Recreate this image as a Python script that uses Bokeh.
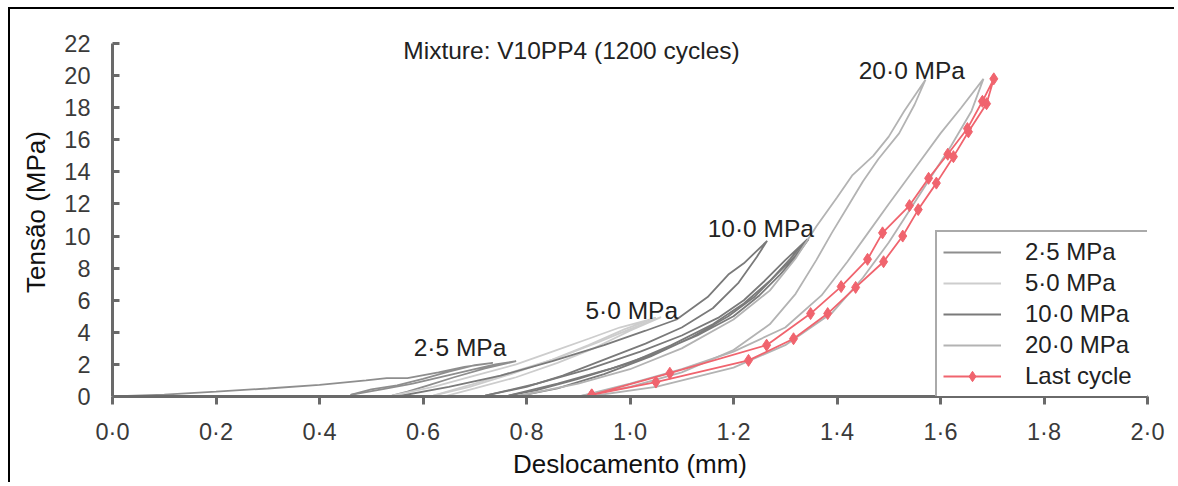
from bokeh.plotting import figure
from bokeh.models import (ColumnDataSource, FixedTicker, CustomJSTickFormatter, Label,
                          Legend, LegendItem)
from bokeh.core.properties import value
from bokeh.embed import file_html
from bokeh.resources import INLINE

FONT = "Liberation Sans"

# ---------------- data ----------------
x_ticks = [0.0, 0.2, 0.4, 0.6, 0.8, 1.0, 1.2, 1.4, 1.6, 1.8, 2.0]
y_ticks = [0, 2, 4, 6, 8, 10, 12, 14, 16, 18, 20, 22]

# 2.5 MPa cycles (loading + unloading)
s25_xs = [
    [0.0, 0.1, 0.2, 0.3, 0.4, 0.49, 0.53, 0.57, 0.63, 0.68, 0.735,
     0.70, 0.65, 0.60, 0.55, 0.50, 0.46],
    [0.46, 0.52, 0.58, 0.64, 0.70, 0.74, 0.78,
     0.72, 0.66, 0.61, 0.57, 0.54],
]
s25_ys = [
    [0.0, 0.12, 0.3, 0.5, 0.72, 1.0, 1.15, 1.15, 1.5, 1.85, 2.1,
     1.95, 1.55, 1.1, 0.7, 0.45, 0.1],
    [0.1, 0.45, 0.8, 1.25, 1.7, 2.0, 2.2,
     1.75, 1.2, 0.7, 0.3, 0.05],
]

# 5.0 MPa cycles
s50_xs = [
    [0.54, 0.62, 0.70, 0.78, 0.85, 0.92, 0.98, 1.05,
     0.99, 0.92, 0.85, 0.77, 0.69, 0.62],
    [0.62, 0.70, 0.78, 0.86, 0.94, 1.00, 1.06,
     1.00, 0.93, 0.86, 0.78, 0.70, 0.64],
]
s50_ys = [
    [0.05, 0.6, 1.3, 2.0, 2.8, 3.6, 4.3, 4.9,
     4.2, 3.2, 2.3, 1.4, 0.6, 0.05],
    [0.05, 0.8, 1.6, 2.4, 3.4, 4.2, 4.95,
     4.1, 3.0, 2.1, 1.2, 0.5, 0.0],
]

# 10.0 MPa cycles
s100_xs = [
    [0.55, 0.65, 0.75, 0.85, 0.95, 1.03, 1.09, 1.15, 1.19, 1.22, 1.265,
     1.245, 1.21, 1.16, 1.10, 1.03, 0.95, 0.87, 0.80, 0.72],
    [0.72, 0.82, 0.92, 1.02, 1.10, 1.17, 1.22, 1.26, 1.30, 1.343,
     1.31, 1.27, 1.22, 1.16, 1.08, 1.00, 0.90, 0.82, 0.765],
    [0.765, 0.86, 0.96, 1.05, 1.13, 1.20, 1.25, 1.29, 1.32, 1.345,
     1.32, 1.28, 1.24, 1.19, 1.12, 1.04, 0.95, 0.86, 0.78],
]
s100_ys = [
    [0.0, 0.6, 1.3, 2.2, 3.2, 4.1, 4.8, 6.2, 7.6, 8.3, 9.7,
     8.7, 7.1, 5.5, 4.3, 3.3, 2.3, 1.3, 0.6, 0.05],
    [0.05, 0.8, 1.7, 2.8, 3.8, 4.9, 6.0, 7.2, 8.5, 9.8,
     8.6, 7.2, 5.8, 4.5, 3.2, 2.1, 1.1, 0.4, 0.05],
    [0.05, 0.8, 1.7, 2.7, 3.8, 5.0, 6.3, 7.6, 8.7, 9.8,
     8.8, 7.5, 6.2, 5.0, 3.7, 2.5, 1.4, 0.5, 0.0],
]

# 20.0 MPa cycles
s200_xs = [
    [0.78, 0.90, 1.00, 1.10, 1.20, 1.27, 1.32, 1.36, 1.40, 1.43, 1.47, 1.50, 1.53, 1.571,
     1.55, 1.52, 1.48, 1.45, 1.42, 1.39, 1.36, 1.32, 1.27, 1.20, 1.10, 1.00, 0.90],
    [0.90, 1.00, 1.10, 1.20, 1.30, 1.37, 1.42, 1.46, 1.50, 1.55, 1.60, 1.64, 1.683,
     1.66, 1.62, 1.58, 1.54, 1.50, 1.45, 1.39, 1.30, 1.20, 1.05, 0.92],
]
s200_ys = [
    [0.0, 0.8, 1.7, 3.0, 4.8, 6.6, 8.6, 10.6, 12.4, 13.8, 15.0, 16.2, 17.8, 19.75,
     18.2, 16.4, 14.8, 13.4, 11.8, 10.2, 8.5, 6.4, 4.5, 2.9, 1.5, 0.6, 0.0],
    [0.0, 0.8, 1.7, 2.8, 4.3, 6.3, 8.4, 10.2, 12.0, 14.2, 16.4, 18.0, 19.8,
     17.8, 15.6, 13.6, 11.6, 9.6, 7.4, 5.2, 3.2, 1.8, 0.6, 0.0],
]

# last cycle (red, with markers)
last_x = [0.926, 1.077, 1.264, 1.349, 1.408, 1.459, 1.488, 1.540, 1.577, 1.614, 1.652, 1.681, 1.703,
          1.689, 1.654, 1.625, 1.592, 1.557, 1.527, 1.490, 1.436, 1.382, 1.316, 1.229, 1.050, 0.926]
last_y = [0.10, 1.45, 3.20, 5.17, 6.85, 8.55, 10.2, 11.9, 13.6, 15.1, 16.7, 18.4, 19.8,
          18.25, 16.5, 14.95, 13.3, 11.65, 10.0, 8.4, 6.8, 5.17, 3.6, 2.25, 0.9, 0.10]

series_names = ["2·5 MPa", "5·0 MPa", "10·0 MPa", "20·0 MPa", "Last cycle"]

label_text = ["2·5 MPa", "5·0 MPa", "10·0 MPa", "20·0 MPa"]
title_text = "Mixture: V10PP4 (1200 cycles)"
x_title = "Deslocamento (mm)"
y_title = "Tensão (MPa)"

# ---------------- figure ----------------
p = figure(width=1166, height=475, x_range=(0, 2.0), y_range=(0, 23),
           output_backend="svg", toolbar_location=None,
           min_border_left=102, min_border_right=29, min_border_top=18, min_border_bottom=88)
p.styles = {"margin-left": "8px", "margin-top": "7px",
            "border-left": "2px solid black", "border-top": "2px solid black"}
p.outline_line_color = None
p.xgrid.visible = False
p.ygrid.visible = False
p.background_fill_color = "white"
p.border_fill_color = "white"

AX = "#6a6a6a"
for ax in (p.xaxis[0], p.yaxis[0]):
    ax.axis_line_color = AX
    ax.axis_line_width = 3
    ax.major_tick_line_color = AX
    ax.major_tick_line_width = 3
    ax.minor_tick_line_color = None
    ax.major_label_text_font = FONT
    ax.major_label_text_font_size = "23.5px"
    ax.major_label_text_color = "#3a3a3a"
    ax.axis_label_text_font = FONT
    ax.axis_label_text_font_size = "26px"
    ax.axis_label_text_font_style = "normal"
    ax.axis_label_text_color = "#111111"

p.xaxis.ticker = FixedTicker(ticks=x_ticks)
p.xaxis.formatter = CustomJSTickFormatter(code="return tick.toFixed(1).replace('.', '\u00b7');")
p.xaxis.major_tick_in = 0
p.xaxis.major_tick_out = 8
p.xaxis.major_label_standoff = 14
p.xaxis.bounds = (0, 2.0)
p.xaxis.axis_label = x_title
p.xaxis.axis_label_standoff = 1

p.yaxis.ticker = FixedTicker(ticks=y_ticks)
p.yaxis.major_tick_in = 7
p.yaxis.major_tick_out = 0
p.yaxis.major_label_standoff = 22
p.yaxis.bounds = (0, 22)
p.yaxis.axis_label = y_title
p.yaxis.axis_label_standoff = 10

# curves
r25 = p.multi_line(s25_xs, s25_ys, line_color="#8e8e8e", line_width=1.8)
r50 = p.multi_line(s50_xs, s50_ys, line_color="#cdcdcd", line_width=1.8)
r100 = p.multi_line(s100_xs, s100_ys, line_color="#7a7a7a", line_width=1.8)
r200 = p.multi_line(s200_xs, s200_ys, line_color="#b3b3b3", line_width=1.8)
RED = "#f0646e"
rl = p.line(last_x, last_y, line_color=RED, line_width=1.8)
rm = p.scatter(last_x, last_y, marker="diamond", size=12, fill_color=RED, line_color=RED)

# level annotations
src = ColumnDataSource(dict(x=[0.582, 0.914, 1.150, 1.442],
                            y=[3.05, 5.36, 10.5, 20.3], t=label_text))
p.text("x", "y", text="t", source=src, text_font=value(FONT), text_font_size="24.5px",
       text_color="#222222", text_baseline="alphabetic", text_align="left")
p.add_layout(Label(x=0.562, y=21.56, text=title_text, text_font=FONT, text_font_size="24.5px",
                   text_color="#222222", text_baseline="alphabetic"))

legend = Legend(items=[
    LegendItem(label=series_names[0], renderers=[r25]),
    LegendItem(label=series_names[1], renderers=[r50]),
    LegendItem(label=series_names[2], renderers=[r100]),
    LegendItem(label=series_names[3], renderers=[r200]),
    LegendItem(label=series_names[4], renderers=[rl, rm]),
], location=(823, -2))
legend.label_text_font = FONT
legend.label_text_font_size = "24px"
legend.label_text_color = "#222222"
legend.glyph_width = 58
legend.glyph_height = 26
legend.label_height = 26
legend.label_width = 118
legend.label_standoff = 24
legend.spacing = 3
legend.padding = 6
legend.margin = 0
legend.border_line_color = "#555555"
legend.border_line_width = 2
legend.background_fill_color = "white"
legend.background_fill_alpha = 1
p.add_layout(legend)

open("out.html", "w").write(file_html(p, INLINE))
